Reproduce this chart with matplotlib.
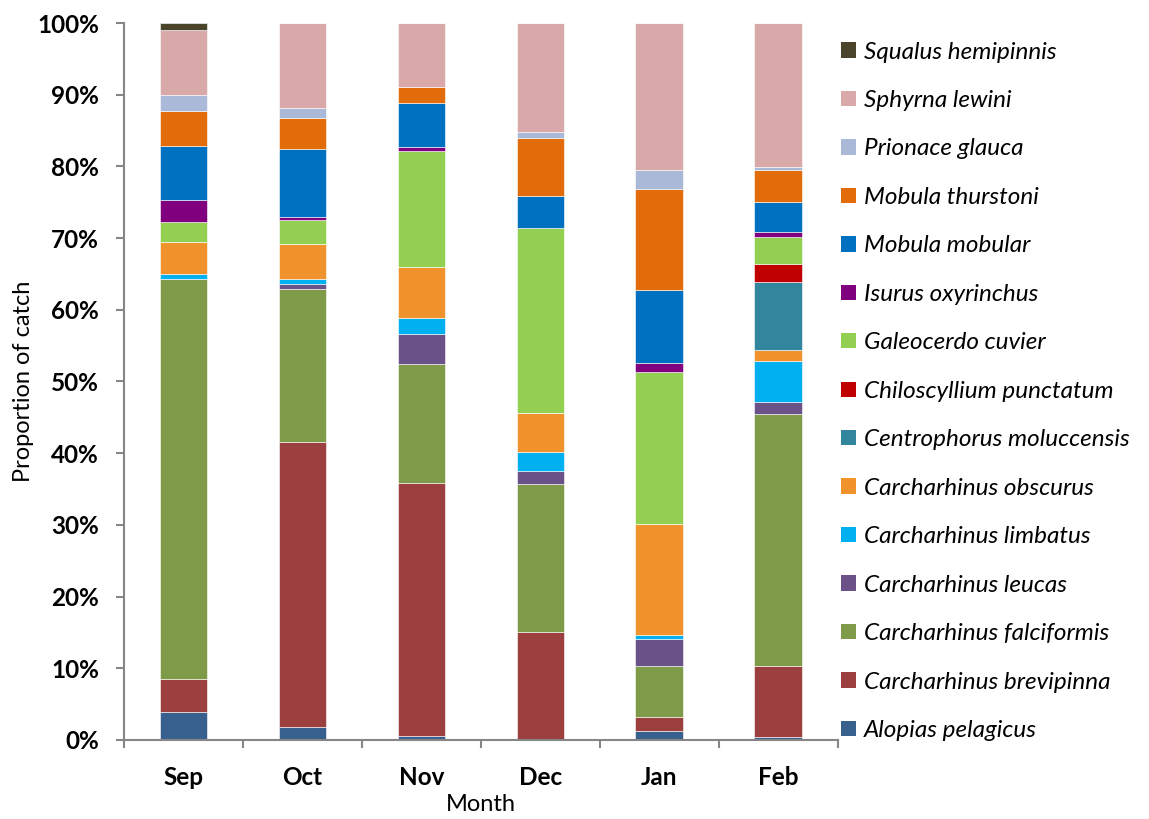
import numpy as np
import matplotlib
matplotlib.use("Agg")
import matplotlib.pyplot as plt
from matplotlib.ticker import PercentFormatter
from matplotlib.patches import Patch

plt.rcParams['font.family'] = ['Lato', 'DejaVu Sans']

months = ["Sep", "Oct", "Nov", "Dec", "Jan", "Feb"]

species = ["Alopias pelagicus", "Carcharhinus brevipinna", "Carcharhinus falciformis",
           "Carcharhinus leucas", "Carcharhinus limbatus", "Carcharhinus obscurus",
           "Centrophorus moluccensis", "Chiloscyllium punctatum", "Galeocerdo cuvier",
           "Isurus oxyrinchus", "Mobula mobular", "Mobula thurstoni",
           "Prionace glauca", "Sphyrna lewini", "Squalus hemipinnis"]

# proportion of catch (%) per month, stacked bottom to top
alopias = [3.9, 1.8, 0.5, 0.1, 1.3, 0.4]
brevipinna = [4.6, 39.7, 35.4, 15.0, 1.9, 9.9]
falciformis = [55.8, 21.4, 16.5, 20.6, 7.1, 35.2]
leucas = [0.0, 0.7, 4.2, 1.8, 3.8, 1.6]
limbatus = [0.7, 0.7, 2.3, 2.7, 0.6, 5.8]
obscurus = [4.5, 4.9, 7.0, 5.4, 15.4, 1.5]
centrophorus = [0.0, 0.0, 0.0, 0.0, 0.0, 9.5]
chiloscyllium = [0.0, 0.0, 0.0, 0.0, 0.0, 2.5]
galeocerdo = [2.7, 3.3, 16.3, 25.8, 21.2, 3.7]
isurus = [3.1, 0.5, 0.5, 0.0, 1.3, 0.8]
mobular = [7.5, 9.4, 6.1, 4.5, 10.2, 4.1]
thurstoni = [4.9, 4.4, 2.3, 8.0, 14.1, 4.5]
prionace = [2.3, 1.3, 0.0, 0.9, 2.6, 0.4]
sphyrna = [9.0, 11.9, 8.9, 15.2, 20.5, 20.1]
squalus = [1.0, 0.0, 0.0, 0.0, 0.0, 0.0]

series = [alopias, brevipinna, falciformis, leucas, limbatus, obscurus,
          centrophorus, chiloscyllium, galeocerdo, isurus, mobular, thurstoni,
          prionace, sphyrna, squalus]

colors = ["#37608f", "#9b403e", "#7f9a49", "#6a5187", "#00b0f0", "#f0932c",
          "#31859c", "#c00000", "#93d051", "#800080", "#0070c0", "#e36c0a",
          "#aab9d8", "#d9a9aa", "#4a452a"]

fig = plt.figure(figsize=(11.49, 8.19), dpi=100)
ax = fig.add_axes([0.108, 0.0965, 0.621, 0.8754])

x = np.arange(len(months))
bottom = np.zeros(len(months))
for vals, col in zip(series, colors):
    vals = np.array(vals)
    ax.bar(x, vals, 0.4, bottom=bottom, color=col, edgecolor="white",
           linewidth=0.4)
    bottom += vals

ax.set_xlim(-0.5, 5.5)
ax.set_ylim(0, 100)
ax.set_yticks(np.arange(0, 101, 10))
ax.yaxis.set_major_formatter(PercentFormatter(decimals=0))
ax.set_xticks(x)
ax.set_xticklabels(months)
ax.set_xticks(np.arange(-0.5, 6, 1), minor=True)
ax.tick_params(axis="x", which="major", length=0, pad=19)
ax.tick_params(axis="x", which="minor", length=6, color="#868686", width=1.5)
ax.tick_params(axis="y", length=6, color="#868686", width=1.5, pad=12)
for lab in ax.get_xticklabels() + ax.get_yticklabels():
    lab.set_fontweight("bold")
    lab.set_fontsize(17.5)

for s in ["top", "right"]:
    ax.spines[s].set_visible(False)
for s in ["left", "bottom"]:
    ax.spines[s].set_color("#868686")
    ax.spines[s].set_linewidth(1.5)

ax.set_ylabel("Proportion of catch", fontsize=17, labelpad=2)
ax.set_xlabel("Month", fontsize=17, labelpad=3)

handles = [Patch(facecolor=c, label=s) for s, c in zip(species, colors)][::-1]
leg = fig.legend(handles=handles, loc="upper left", bbox_to_anchor=(0.713, 0.976),
                 frameon=False, prop={"style": "italic", "size": 17.5},
                 handlelength=0.6, handleheight=0.6, handletextpad=0.35,
                 labelspacing=1.13, borderpad=0.4)

fig.savefig("out.png", dpi=100)
